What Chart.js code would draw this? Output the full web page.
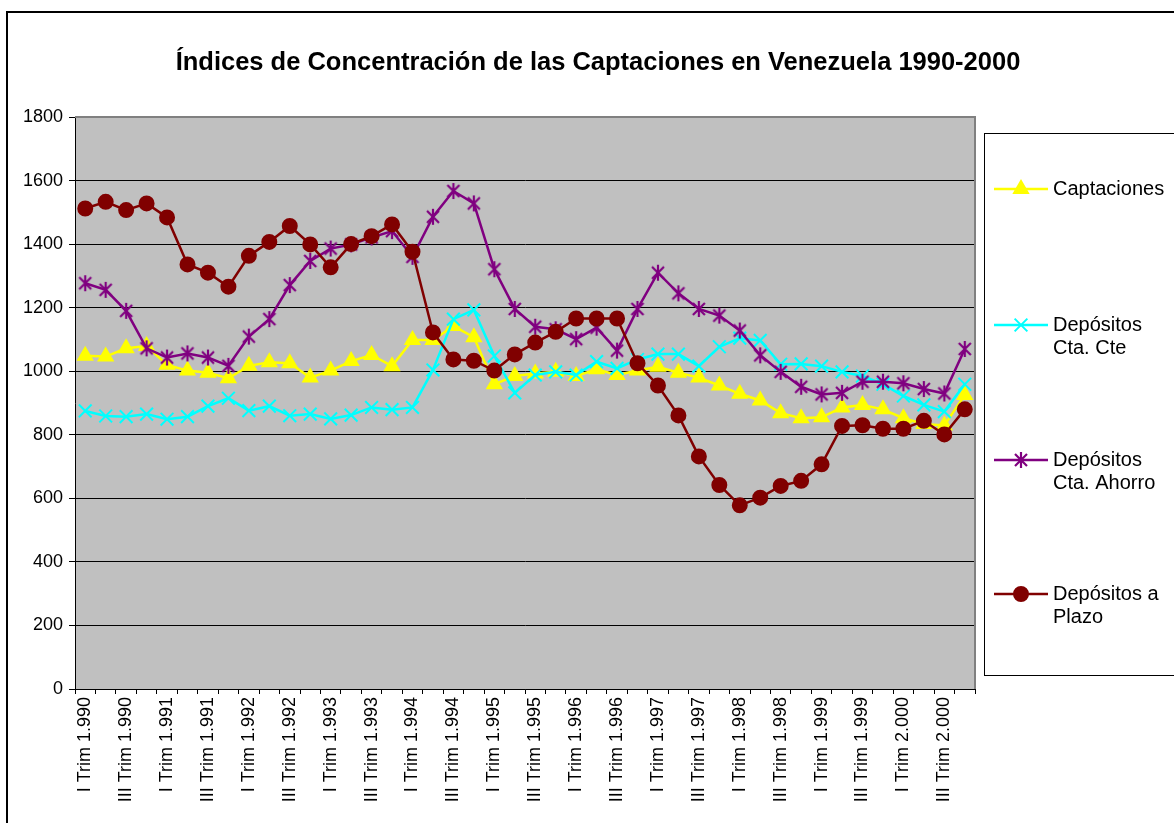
<!DOCTYPE html>
<html>
<head>
<meta charset="utf-8">
<script src="https://cdn.jsdelivr.net/npm/chart.js@4/dist/chart.umd.min.js"></script>
<style>
  body { margin: 0; background: #fff; }
  canvas { display: block; }
</style>
</head>
<body>
<canvas id="myChart" width="1174" height="823"></canvas>
<script>
// quarters and years for the category axis
var trimestres = ["I", "II", "III", "IV"];
var anios = ["1.990", "1.991", "1.992", "1.993", "1.994", "1.995", "1.996", "1.997", "1.998", "1.999", "2.000"];

var etiquetas = [];
anios.forEach(function (a) {
  trimestres.forEach(function (t) { etiquetas.push(t + " Trim " + a); });
});

var captaciones = [1049, 1046, 1072, 1079, 1020, 1002, 995, 978, 1017, 1028, 1025, 980, 1002, 1032, 1051, 1016,
  1098, 1098, 1142, 1107, 959, 985, 993, 998, 985, 1006, 988, 1002, 1014, 995, 980, 955,
  929, 908, 868, 852, 855, 886, 894, 880, 852, 834, 829, 925];

var ctaCte = [875, 859, 857, 865, 849, 857, 890, 915, 876, 890, 860, 865, 850, 862, 886, 879,
  886, 1004, 1164, 1193, 1048, 932, 988, 998, 988, 1030, 1009, 1037, 1054, 1054, 1016, 1077,
  1104, 1097, 1022, 1023, 1016, 998, 985, 959, 922, 894, 873, 959];

var ctaAhorro = [1277, 1256, 1190, 1072, 1043, 1056, 1043, 1017, 1109, 1164, 1271, 1347, 1386, 1399, 1421, 1441,
  1360, 1486, 1567, 1528, 1321, 1196, 1140, 1132, 1101, 1137, 1065, 1196, 1310, 1245, 1196, 1175,
  1128, 1050, 998, 951, 927, 932, 967, 967, 962, 944, 930, 1070];

var plazo = [1512, 1533, 1507, 1528, 1484, 1336, 1310, 1266, 1363, 1407, 1457, 1399, 1327, 1400, 1425, 1462,
  1376, 1122, 1037, 1033, 1002, 1053, 1090, 1124, 1166, 1166, 1166, 1025, 955, 861, 732, 642,
  578, 602, 639, 655, 707, 828, 830, 819, 819, 844, 801, 880];

var yTicks = [0, 200, 400, 600, 800, 1000, 1200, 1400, 1600, 1800];

var fuente = "Arial, 'Liberation Sans', sans-serif";

// excel style asterisk marker (x with a vertical bar)
var asterisco = document.createElement("canvas");
asterisco.width = 18;
asterisco.height = 18;
(function () {
  var c = asterisco.getContext("2d");
  c.strokeStyle = "#800080";
  c.lineWidth = 2.2;
  c.beginPath();
  c.moveTo(3, 3); c.lineTo(15, 15);
  c.moveTo(15, 3); c.lineTo(3, 15);
  c.moveTo(9, 1); c.lineTo(9, 17);
  c.stroke();
})();

var series = [
  { label: ["Captaciones"], data: captaciones, color: "#ffff00", style: "triangle", radius: 8, y: 189 },
  { label: ["Depósitos", "Cta. Cte"], data: ctaCte, color: "#00ffff", style: "crossRot", radius: 9, y: 325 },
  { label: ["Depósitos", "Cta. Ahorro"], data: ctaAhorro, color: "#800080", style: asterisco, radius: 8, y: 460 },
  { label: ["Depósitos a", "Plazo"], data: plazo, color: "#800000", style: "circle", radius: 7, y: 594 }
];

var fondo = {
  id: "fondo",
  beforeDraw: function (chart) {
    var ctx = chart.ctx, a = chart.chartArea;
    ctx.save();
    ctx.fillStyle = "#fff";
    ctx.fillRect(0, 0, chart.width, chart.height);
    ctx.fillStyle = "#c0c0c0";
    ctx.fillRect(a.left, a.top, a.right - a.left, a.bottom - a.top);
    ctx.restore();
  },
  beforeDatasetsDraw: function (chart) {
    var ctx = chart.ctx, a = chart.chartArea;
    ctx.save();
    ctx.strokeStyle = "#808080";
    ctx.lineWidth = 2;
    ctx.beginPath();
    ctx.moveTo(a.left, a.top);
    ctx.lineTo(a.right, a.top);
    ctx.lineTo(a.right, a.bottom);
    ctx.stroke();
    ctx.restore();
  },
  afterDraw: function (chart) {
    var ctx = chart.ctx;
    ctx.save();
    // outer frame
    ctx.strokeStyle = "#000";
    ctx.lineWidth = 2;
    ctx.strokeRect(7, 12, 1200, 900);
    // title
    ctx.fillStyle = "#000";
    ctx.font = "bold 25.5px " + fuente;
    ctx.textAlign = "center";
    ctx.textBaseline = "middle";
    ctx.fillText("Índices de Concentración de las Captaciones en Venezuela 1990-2000", 598, 63);
    // legend box
    ctx.lineWidth = 1;
    ctx.strokeRect(984.5, 133.5, 220, 542);
    ctx.font = "20px " + fuente;
    ctx.textAlign = "left";
    series.forEach(function (s) {
      ctx.strokeStyle = s.color;
      ctx.lineWidth = 2.5;
      ctx.beginPath();
      ctx.moveTo(994, s.y);
      ctx.lineTo(1048, s.y);
      ctx.stroke();
      ctx.fillStyle = s.color;
      ctx.lineWidth = 2;
      Chart.helpers.drawPoint(ctx, { pointStyle: s.style, radius: s.radius, rotation: 0, borderWidth: 2 }, 1021, s.y);
      ctx.fillStyle = "#000";
      s.label.forEach(function (t, i) {
        ctx.fillText(t, 1053, s.y + i * 23);
      });
    });
    ctx.restore();
  }
};

var ctx = document.getElementById("myChart");
var myChart = new Chart(ctx, {
  type: "line",
  data: {
    labels: etiquetas,
    datasets: series.map(function (s, i) {
      return {
        label: s.label.join(" "),
        data: s.data,
        borderColor: s.color,
        backgroundColor: s.color,
        pointBackgroundColor: s.color,
        pointBorderColor: s.color,
        pointStyle: s.style,
        pointRadius: s.radius,
        pointBorderWidth: 2,
        borderWidth: 2.5,
        tension: 0,
        fill: false,
        order: 3 - i
      };
    })
  },
  options: {
    responsive: false,
    animation: false,
    devicePixelRatio: 1,
    layout: { padding: { top: 117, right: 199, left: 0, bottom: 0 } },
    plugins: {
      legend: { display: false },
      title: { display: false },
      tooltip: { enabled: false }
    },
    scales: {
      x: {
        offset: true,
        grid: { drawOnChartArea: false, offset: true, tickLength: 5, color: "#000" },
        border: { color: "#000", width: 1 },
        ticks: {
          autoSkip: false,
          minRotation: 90,
          maxRotation: 90,
          padding: 3,
          color: "#000",
          font: { family: fuente, size: 18 },
          callback: function (v, i) { return i % 2 === 0 ? etiquetas[i] : ""; }
        },
        afterFit: function (scale) { scale.height = 134; }
      },
      y: {
        min: 0,
        max: 1800,
        afterBuildTicks: function (scale) {
          scale.ticks = yTicks.map(function (v) { return { value: v }; });
        },
        grid: { color: "#000", tickLength: 6, lineWidth: 1 },
        border: { color: "#000", width: 1 },
        ticks: {
          color: "#000",
          padding: 6,
          font: { family: fuente, size: 18 },
          callback: function (v) { return String(v); }
        },
        afterFit: function (scale) { scale.width = 75; }
      }
    }
  },
  plugins: [fondo]
});
</script>
</body>
</html>
